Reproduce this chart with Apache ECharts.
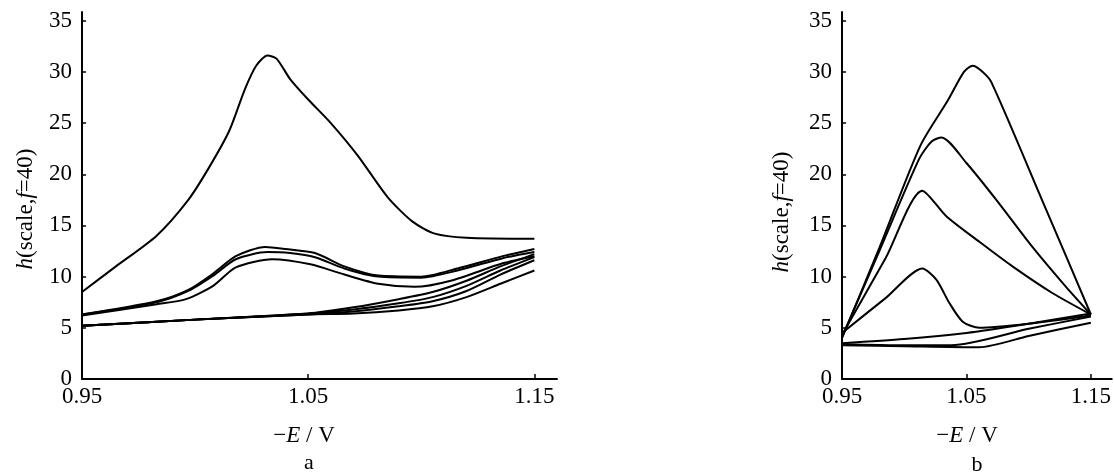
<!DOCTYPE html>
<html>
<head>
<meta charset="utf-8">
<script src="https://cdn.jsdelivr.net/npm/echarts@6/dist/echarts.min.js"></script>
<style>
  html, body { margin: 0; padding: 0; background: #fff; }
  #chart { width: 1114px; height: 475px; }
</style>
</head>
<body>
<div id="chart"></div>
<script>
// tick labels
const xTicks = [0.95, 1.05, 1.15];
const yTicks = [0, 5, 10, 15, 20, 25, 30, 35];

// panel a: reverse-scan (upper) branches, [-E, h]
const aPeak = [[0.95, 8.5], [0.965, 11.0], [0.983, 14.0], [0.997, 17.5], [1.006, 20.6], [1.015, 24.2],
  [1.022, 28.3], [1.027, 30.6], [1.032, 31.6], [1.036, 31.3], [1.042, 29.3], [1.05, 27.3], [1.06, 25.0],
  [1.072, 21.8], [1.085, 17.8], [1.096, 15.4], [1.106, 14.2], [1.12, 13.8], [1.15, 13.7]];
const aHump1 = [[0.95, 6.3], [0.983, 7.6], [0.997, 8.7], [1.008, 10.3], [1.018, 12.0], [1.031, 12.9],
  [1.040, 12.7], [1.053, 12.3], [1.066, 11.0], [1.081, 10.1], [1.10, 10.0], [1.116, 10.8], [1.136, 12.0], [1.15, 12.7]];
const aHump2 = [[0.95, 6.3], [0.983, 7.5], [0.997, 8.6], [1.008, 10.1], [1.018, 11.7], [1.032, 12.4],
  [1.042, 12.3], [1.053, 11.9], [1.066, 10.8], [1.081, 10.0], [1.10, 9.9], [1.116, 10.6], [1.136, 11.8], [1.15, 12.4]];
const aHump3 = [[0.95, 6.2], [0.983, 7.3], [0.996, 7.8], [1.008, 9.1], [1.018, 10.9], [1.034, 11.7],
  [1.051, 11.2], [1.066, 10.2], [1.081, 9.3], [1.097, 9.0], [1.113, 9.6], [1.136, 11.3], [1.15, 12.0]];
// panel a: forward-scan (lower) branches
const aLow1 = [[0.95, 5.2], [1.0, 5.8], [1.05, 6.4], [1.07, 7.0], [1.09, 7.8], [1.105, 8.5], [1.12, 9.6], [1.135, 11.0], [1.15, 12.2]];
const aLow2 = [[0.95, 5.2], [1.0, 5.8], [1.05, 6.4], [1.07, 6.8], [1.09, 7.4], [1.105, 8.0], [1.12, 9.1], [1.135, 10.6], [1.15, 11.9]];
const aLow3 = [[0.95, 5.2], [1.0, 5.8], [1.05, 6.3], [1.07, 6.6], [1.09, 7.1], [1.105, 7.6], [1.12, 8.6], [1.135, 10.2], [1.15, 11.6]];
const aLow4 = [[0.95, 5.2], [1.0, 5.8], [1.05, 6.3], [1.07, 6.4], [1.09, 6.7], [1.105, 7.1], [1.12, 8.0], [1.135, 9.3], [1.15, 10.6]];

// panel b: peaked branches
const bUp1 = [[0.95, 4.0], [0.98, 12.8], [1.013, 22.8], [1.035, 27.2], [1.048, 30.0], [1.055, 30.6], [1.062, 30.1],
  [1.07, 29.0], [1.11, 17.7], [1.15, 6.3]];
const bUp2 = [[0.95, 4.1], [0.98, 12.5], [1.012, 21.5], [1.022, 23.2], [1.030, 23.6], [1.05, 21.1], [1.074, 17.5],
  [1.103, 12.9], [1.13, 9.0], [1.15, 6.3]];
const bUp3 = [[0.95, 4.3], [0.985, 11.8], [1.0145, 18.4], [1.0338, 15.9], [1.0604, 13.4], [1.087, 11.0], [1.119, 8.4], [1.15, 6.3]];
const bUp4 = [[0.95, 4.5], [0.985, 7.9], [1.0145, 10.8], [1.0258, 9.7], [1.0364, 7.4], [1.047, 5.6], [1.0604, 5.0],
  [1.10, 5.4], [1.15, 6.2]];
// panel b: flat branches
const bLow1 = [[0.95, 3.5], [1.0, 3.9], [1.05, 4.5], [1.1, 5.4], [1.15, 6.4]];
const bLow2 = [[0.95, 3.4], [1.0, 3.3], [1.038, 3.3], [1.1, 4.9], [1.15, 6.1]];
const bLow3 = [[0.95, 3.3], [1.0, 3.2], [1.06, 3.1], [1.1, 4.2], [1.15, 5.5]];

const serif = '"Liberation Serif", "Times New Roman", serif';

function makeX(idx, max) {
  return {
    type: 'value', gridIndex: idx, min: 0.95, max: max,
    axisLine: { show: true, onZero: false, lineStyle: { color: '#000', width: 2 } },
    axisTick: { show: true, inside: true, length: 5, customValues: xTicks, lineStyle: { color: '#000', width: 1.5 } },
    axisLabel: { customValues: xTicks, formatter: v => v.toFixed(2), color: '#000', fontFamily: serif, fontSize: 23, margin: 6 },
    splitLine: { show: false }
  };
}
function makeY(idx) {
  return {
    type: 'value', gridIndex: idx, min: 0, max: 35.85,
    axisLine: { show: true, onZero: false, lineStyle: { color: '#000', width: 2 } },
    axisTick: { show: true, inside: true, length: 4, customValues: yTicks, lineStyle: { color: '#000', width: 1.5 } },
    axisLabel: { customValues: yTicks, color: '#000', fontFamily: serif, fontSize: 23, margin: 10 },
    splitLine: { show: false }
  };
}
function line(data, idx) {
  return {
    type: 'line', xAxisIndex: idx, yAxisIndex: idx, data: data,
    smooth: 0.25, showSymbol: false, silent: true,
    lineStyle: { color: '#000', width: 2 }
  };
}
function textEl(x, y, text, rot, size) {
  const fs = size || 22;
  return {
    type: 'text', x: x, y: y, rotation: rot || 0,
    style: {
      text: text, fill: '#000', fontFamily: serif, fontSize: fs, align: 'center', verticalAlign: 'middle',
      rich: { i: { fontStyle: 'italic', fontFamily: serif, fontSize: fs, fill: '#000' } }
    }
  };
}

const chart = echarts.init(document.getElementById('chart'));
chart.setOption({
  animation: false,
  backgroundColor: '#fff',
  grid: [
    { left: 82, top: 12, width: 475, height: 367 },
    { left: 842, top: 12, width: 271, height: 367 }
  ],
  xAxis: [makeX(0, 1.16), makeX(1, 1.1668)],
  yAxis: [makeY(0), makeY(1)],
  series: [
    line(aPeak, 0), line(aHump1, 0), line(aHump2, 0), line(aHump3, 0),
    line(aLow1, 0), line(aLow2, 0), line(aLow3, 0), line(aLow4, 0),
    line(bUp1, 1), line(bUp2, 1), line(bUp3, 1), line(bUp4, 1),
    line(bLow1, 1), line(bLow2, 1), line(bLow3, 1)
  ],
  graphic: [
    textEl(26, 209, '{i|h}(scale,{i|f}=40)', Math.PI / 2, 23),
    textEl(782, 212, '{i|h}(scale,{i|f}=40)', Math.PI / 2, 23),
    textEl(304, 436, '\u2212{i|E} / V', 0, 23),
    textEl(967, 436, '\u2212{i|E} / V', 0, 23),
    textEl(309, 463, 'a', 0, 22),
    textEl(977, 465, 'b', 0, 22)
  ]
});
</script>
</body>
</html>
